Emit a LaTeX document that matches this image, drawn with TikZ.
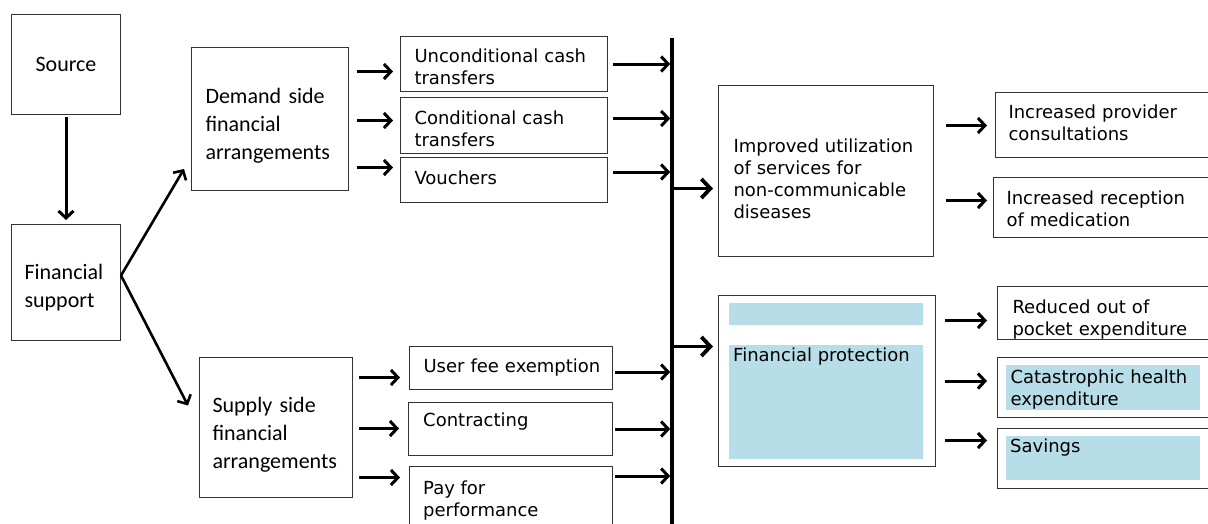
\documentclass[tikz,border=0pt]{standalone}
\usepackage{fontspec}
\setmainfont{DejaVu Sans}
\newfontfamily\calfont{Carlito}
\usetikzlibrary{arrows.meta,positioning}
\definecolor{lightblue}{HTML}{B7DDE8}
\newcommand{\up}[1]{\rule{0pt}{#1}}
\newcommand{\dn}[1]{\rule[-#1]{0pt}{0pt}}
\tikzset{
  box/.style={draw=black!80, line width=1pt, anchor=north west, inner xsep=14pt, inner ysep=0pt,
    align=left, font=\fontsize{18}{22}\selectfont},
  cbox/.style={box, font=\calfont\fontsize{22}{28}\selectfont},
  txt/.style={anchor=north west, inner sep=0pt, align=left, font=\fontsize{18}{22}\selectfont},
  arr/.style={line width=3pt, -{Straight Barb[length=7pt,width=15pt]}},
  bigarr/.style={line width=3.8pt, -{Straight Barb[length=9pt,width=19pt]}}
}
\begin{document}
\begin{tikzpicture}[x=1pt,y=-1pt]
\useasboundingbox (0,0) rectangle (1208,523);
\clip (0,0) rectangle (1208,523);

\fill[lightblue] (729,303) rectangle (923,325);
\fill[lightblue] (729,345) rectangle (923,459);
\fill[lightblue] (1006,365) rectangle (1200,410);
\fill[lightblue] (1006,436) rectangle (1200,480);

\node[cbox, align=center, minimum width=109pt, minimum height=100pt, text width=81pt] (src) at (11,14) {Source};
\node[cbox, inner xsep=13pt, minimum width=109pt, minimum height=116pt, text width=83pt] (fin) at (11,224) {\up{25pt}Financial\\support};
\node[cbox, minimum width=157pt, minimum height=143pt, text width=129pt] (dem) at (191,47) {\up{29pt}Demand side\\financial\\arrangements};
\node[cbox, inner xsep=13pt, minimum width=153pt, minimum height=140pt, text width=127pt] (sup) at (199,357) {\up{30pt}Supply side\\financial\\arrangements};

\node[box, minimum width=207pt, minimum height=55pt, text width=179pt] (unc) at (400,36) {\up{20pt}Unconditional cash\\transfers};
\node[box, minimum width=207pt, minimum height=56pt, text width=179pt] (con) at (400,97) {\up{21pt}Conditional cash\\transfers};
\node[box, minimum width=207pt, minimum height=45pt, text width=179pt] (vou) at (400,157) {Vouchers\dn{4pt}};
\node[box, minimum width=203pt, minimum height=43pt, text width=179pt, inner xsep=12pt] (usr) at (409,346) {\hspace{2pt}User fee exemption};
\node[box, minimum width=204pt, minimum height=53pt] (ctr) at (408,402) {};
\node[box, minimum width=203pt, minimum height=70pt] (pay) at (409,466) {};
\node[txt] (ctr-t) at ([shift={(15pt,-11pt)}]ctr.north west) {Contracting};
\node[txt] (pay-t) at ([shift={(14pt,-15pt)}]pay.north west) {Pay for\\performance};

\node[box, inner xsep=15pt, minimum width=215pt, minimum height=171pt, text width=185pt] (imp) at (718,85) {\up{30pt}Improved utilization\\of services for\\non-communicable\\diseases};
\node[box, minimum width=217pt, minimum height=171pt] (fpr) at (718,295) {};
\node[txt] (fpr-t) at ([shift={(15pt,-53pt)}]fpr.north west) {Financial protection};

\node[box, inner xsep=13pt, minimum width=215pt, minimum height=65pt, text width=189pt] (prv) at (995,92) {Increased provider\\consultations\dn{5pt}};
\node[box, inner xsep=13pt, minimum width=217pt, minimum height=60pt, text width=191pt] (rec) at (993,177) {\up{16pt}Increased reception\\of medication};
\node[box, inner xsep=15pt, minimum width=213pt, minimum height=53pt, text width=183pt] (red) at (997,286) {\up{27pt}Reduced out of\\pocket expenditure};
\node[box, inner xsep=13pt, minimum width=213pt, minimum height=60pt, text width=187pt] (cat) at (997,357) {\up{18pt}Catastrophic health\\expenditure};
\node[box, minimum width=213pt, minimum height=60pt] (sav) at (997,428) {};
\node[txt] (sav-t) at ([shift={(13pt,-11pt)}]sav.north west) {Savings};

\coordinate (bartop) at (672,38);
\coordinate (barbot) at (672,530);
\draw[line width=3.5pt] (bartop) -- (barbot);

\draw[arr, shorten <=2pt, shorten >=4pt] (src) -- (fin);
\coordinate (fo) at ([yshift=7pt]fin.east);
\coordinate (di) at ([shift={(-7pt,22pt)}]dem.south west);
\coordinate (si) at ([shift={(-11pt,22pt)}]sup.west);
\draw[arr, line width=2.6pt] (fo) -- (di);
\draw[arr, line width=2.6pt] (fo) -- (si);

\foreach \b/\s in {unc/47.5,con/-1.5,vou/-48.5} {
  \coordinate (a) at ([yshift=\s pt]dem.east);
  \draw[arr, shorten <=8pt, shorten >=7pt] (a) -- (a -| \b.west);
}
\foreach \b/\s in {usr/50,ctr/-1,pay/-50} {
  \coordinate (a) at ([yshift=\s pt]sup.east);
  \draw[arr, shorten <=6pt, shorten >=9pt] (a) -- (a -| \b.west);
}
\foreach \b/\s in {unc/0,con/7,vou/8} {
  \coordinate (a) at ([yshift=\s pt]\b.east);
  \draw[arr, shorten <=5pt, shorten >=1.8pt] (a) -- (a -| bartop);
}
\foreach \b/\s in {usr/-4,ctr/0} {
  \coordinate (a) at ([yshift=\s pt]\b.east);
  \draw[arr, shorten <=2pt, shorten >=1.8pt] (a) -- (a -| bartop);
}
\coordinate (a) at ([yshift=-10pt]pay.north east);
\draw[arr, shorten <=2pt, shorten >=1.8pt] (a) -- (a -| bartop);

\coordinate (o1) at ([yshift=-17.5pt]imp.west);
\coordinate (o2) at ([yshift=34.5pt]fpr.west);
\draw[bigarr, shorten >=5pt] (o1 -| bartop) -- (o1);
\draw[bigarr, shorten >=5pt] (o2 -| bartop) -- (o2);

\coordinate (a) at ([yshift=45.5pt]imp.east);
\draw[arr, shorten <=12pt, shorten >=8pt] (a) -- (a -| prv.west);
\coordinate (a) at ([yshift=-29.5pt]imp.east);
\draw[arr, shorten <=12pt, shorten >=6pt] (a) -- (a -| rec.west);
\foreach \b/\s in {red/60.5,cat/0,sav/-59.5} {
  \coordinate (a) at ([yshift=\s pt]fpr.east);
  \draw[arr, shorten <=9pt, shorten >=10pt] (a) -- (a -| \b.west);
}
\end{tikzpicture}
\end{document}
